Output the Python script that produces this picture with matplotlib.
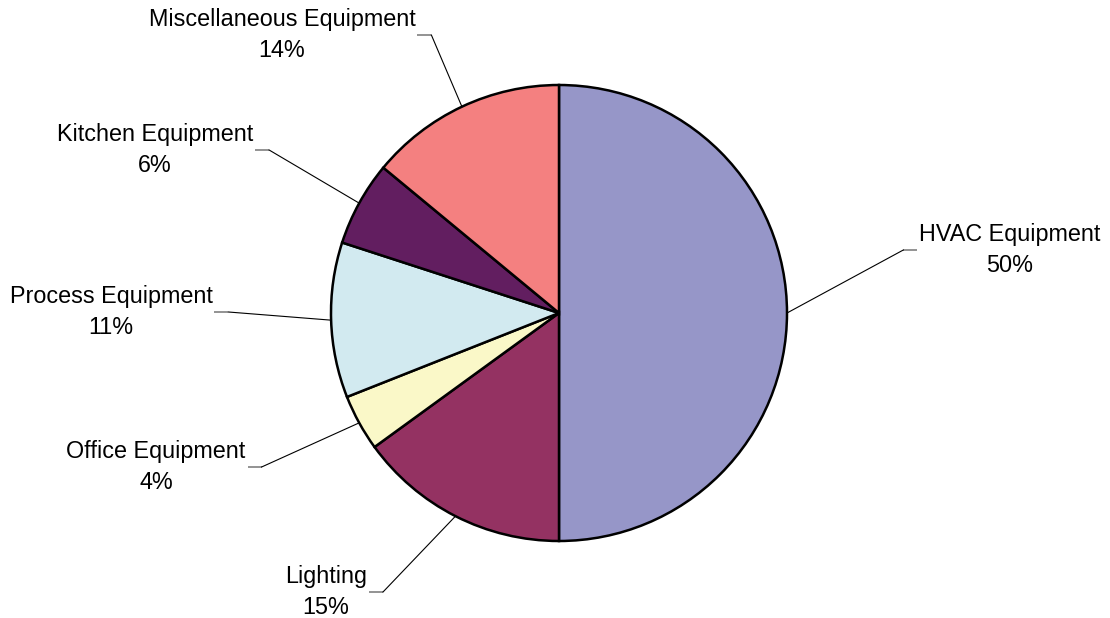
import numpy as np
import matplotlib
matplotlib.use("Agg")
import matplotlib.pyplot as plt

plt.rcParams['font.family'] = ['Liberation Sans', 'DejaVu Sans']

# Share of energy use by end-use category
categories = ["HVAC Equipment", "Lighting", "Office Equipment",
              "Process Equipment", "Kitchen Equipment", "Miscellaneous Equipment"]
shares = [50, 15, 4, 11, 6, 14]
colors = ["#9696C8", "#943262", "#FAF8C8", "#D2EAF0", "#621E60", "#F48080"]

# Label block centres (pixel coords, y measured from top) and which side the leader attaches
label_pos = {
    "HVAC Equipment": (1010, 250, "left"),
    "Lighting": (326, 592, "right"),
    "Office Equipment": (156, 467, "right"),
    "Process Equipment": (111, 312, "right"),
    "Kitchen Equipment": (155, 150, "right"),
    "Miscellaneous Equipment": (282, 35, "right"),
}

W, H = 1110, 618
fig = plt.figure(figsize=(W / 100, H / 100), dpi=100)
ax = fig.add_axes([0, 0, 1, 1])

cx, cy, r = 559, H - 313, 228
wedges, _ = ax.pie(shares, colors=colors, startangle=90, counterclock=False,
                   center=(cx, cy), radius=r, frame=True,
                   wedgeprops=dict(edgecolor="black", linewidth=1.8))
ax.set_xlim(0, W)
ax.set_ylim(0, H)
ax.set_aspect("equal")
ax.axis("off")

fs = 16.8
total = sum(shares)
for w, name, val in zip(wedges, categories, shares):
    mid = np.deg2rad((w.theta1 + w.theta2) / 2)
    ex, ey = cx + r * np.cos(mid), cy + r * np.sin(mid)
    lx, ly_px, side = label_pos[name]
    ly = H - ly_px
    txt = ax.text(lx, ly, f"{name}\n{val / total * 100:.0f}%", ha="center", va="center",
                  fontsize=fs, linespacing=1.4, color="black")
    fig.canvas.draw()
    bb = txt.get_window_extent().transformed(ax.transData.inverted())
    if side == "right":
        x0 = bb.x1 + 2
        x1 = x0 + 14
        ax.plot([x0, x1], [ly, ly], color="#808080", lw=1.2, solid_capstyle="butt")
        ax.plot([x1, ex], [ly, ey], color="black", lw=0.8)
    else:
        x0 = bb.x0 - 2
        x1 = x0 - 14
        ax.plot([x1, x0], [ly, ly], color="#808080", lw=1.2, solid_capstyle="butt")
        ax.plot([x1, ex], [ly, ey], color="black", lw=0.8)

fig.savefig("out.png", dpi=100, facecolor="white")
